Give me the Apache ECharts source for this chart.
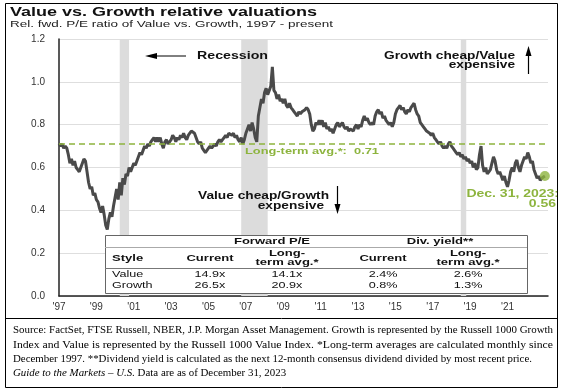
<!DOCTYPE html>
<html><head><meta charset="utf-8">
<script src="https://cdn.jsdelivr.net/npm/echarts@6/dist/echarts.min.js"></script>
<style>html,body{margin:0;padding:0;background:#fff}#c{width:564px;height:392px}</style>
</head><body><div id="c"></div>
<script>
// ---- data (monthly, Dec 1997 .. Dec 2023) ----
const startYear = 1997; // first point = Dec 1997
const relPE = [
0.71,0.70,0.71,0.69,0.70,0.69,0.66,0.62,0.64,0.61,0.63,0.60,0.59,
0.58,0.60,0.62,0.64,0.63,0.58,0.53,0.50,0.51,0.47,0.48,0.45,
0.44,0.41,0.39,0.42,0.38,0.33,0.31,0.36,0.39,0.37,0.42,0.46,
0.50,0.45,0.53,0.47,0.55,0.52,0.57,0.56,0.60,0.58,0.60,0.62,
0.61,0.63,0.65,0.67,0.66,0.68,0.70,0.69,0.71,0.70,0.72,0.73,
0.74,0.72,0.74,0.72,0.74,0.71,0.69,0.72,0.73,0.71,0.72,0.73,
0.75,0.74,0.72,0.74,0.73,0.75,0.74,0.76,0.74,0.73,0.75,0.76,
0.77,0.775,0.76,0.74,0.72,0.71,0.72,0.69,0.68,0.67,0.68,0.69,
0.70,0.69,0.70,0.71,0.70,0.72,0.73,0.72,0.73,0.74,0.75,0.74,
0.76,0.765,0.75,0.76,0.74,0.75,0.73,0.72,0.74,0.71,0.73,0.76,
0.78,0.80,0.77,0.81,0.78,0.74,0.72,0.84,0.88,0.92,0.90,0.95,
0.97,0.94,0.96,0.98,1.07,0.96,0.95,0.92,0.94,0.91,0.92,0.90,
0.92,0.89,0.88,0.90,0.88,0.87,0.86,0.85,0.84,0.86,0.85,0.86,
0.86,0.87,0.88,0.87,0.85,0.80,0.77,0.78,0.81,0.80,0.82,0.80,
0.82,0.79,0.81,0.78,0.79,0.77,0.78,0.76,0.78,0.80,0.81,0.79,
0.80,0.81,0.79,0.78,0.79,0.77,0.78,0.78,0.77,0.79,0.80,0.78,
0.80,0.79,0.82,0.84,0.82,0.83,0.81,0.80,0.81,0.80,0.84,0.86,
0.87,0.85,0.86,0.83,0.84,0.82,0.82,0.80,0.81,0.79,0.81,0.85,
0.87,0.88,0.89,0.87,0.88,0.86,0.85,0.87,0.86,0.88,0.89,0.90,
0.87,0.85,0.84,0.81,0.80,0.79,0.78,0.77,0.77,0.76,0.75,0.76,
0.74,0.73,0.72,0.71,0.72,0.70,0.69,0.70,0.69,0.71,0.72,0.70,
0.69,0.68,0.67,0.66,0.67,0.65,0.66,0.64,0.65,0.63,0.64,0.62,
0.63,0.60,0.62,0.59,0.60,0.66,0.70,0.61,0.58,0.60,0.57,0.58,
0.59,0.62,0.65,0.63,0.59,0.57,0.58,0.56,0.54,0.56,0.53,0.51,
0.54,0.58,0.60,0.58,0.62,0.635,0.60,0.58,0.61,0.63,0.65,0.64,
0.67,0.65,0.62,0.63,0.59,0.57,0.55,0.56,0.54,0.55,0.55,0.56
];
const longTermAvg = 0.71;
const endValue = 0.56;
const endLabel = 'Dec. 31, 2023:';
// recession periods, in months since Dec 1997 (as drawn)
const recessions = [[39, 45], [117, 134], [258, 261.5]];
const yTicks = [0, 0.2, 0.4, 0.6, 0.8, 1.0, 1.2];

// table
const tableStyles = ['Value', 'Growth'];
const peCurrent = ['14.9x', '26.5x'];
const peLongTerm = ['14.1x', '20.9x'];
const dyCurrent = ['2.4%', '0.8%'];
const dyLongTerm = ['2.6%', '1.3%'];

const titleText = 'Value vs. Growth relative valuations';
const subtitleText = 'Rel. fwd. P/E ratio of Value vs. Growth, 1997 - present';
const footLines = [
 'Source: FactSet, FTSE Russell, NBER, J.P. Morgan Asset Management. Growth is represented by the Russell 1000 Growth',
 'Index and Value is represented by the Russell 1000 Value Index. *Long-term averages are calculated monthly since',
 'December 1997. **Dividend yield is calculated as the next 12-month consensus dividend divided by most recent price.'
];
const footJustified = [true, true, false];
const footItalic = 'Guide to the Markets \u2013 U.S.';
const footLast = ' Data are as of December 31, 2023';

// ---- chart ----
const GREEN = '#8db43e';
const SANS = 'Arial, "Liberation Sans", sans-serif';
const SERIF = '"Times New Roman", "Liberation Serif", serif';
const FOOT_SIZE = 10.9;
const FOOT_FONT = FOOT_SIZE + 'px ' + SERIF;

function T(x, y, text, font, opt) {
  opt = opt || {};
  return {
    type: 'text', x: x, y: y, scaleX: opt.sx == null ? 1.42 : opt.sx, z: opt.z || 120, silent: true,
    style: {
      text: text, font: font, fill: opt.fill || '#111',
      textAlign: opt.align || 'left', align: opt.align || 'left',
      textVerticalAlign: 'middle', verticalAlign: 'middle',
      rich: opt.rich
    }
  };
}
function L(x1, y1, x2, y2, color, w, z) {
  return { type: 'line', z: z || 120, silent: true, shape: { x1, y1, x2, y2 }, style: { stroke: color, lineWidth: w || 1 } };
}
function P(points, color, z) {
  return { type: 'polygon', z: z || 120, silent: true, shape: { points }, style: { fill: color } };
}
const mctx = document.createElement('canvas').getContext('2d');
function measure(text, font) { mctx.font = font; return mctx.measureText(text).width; }

const chart = echarts.init(document.getElementById('c'), null, { renderer: 'canvas', width: 564, height: 392 });

const g = [];
// frame
g.push({ type: 'rect', z: 130, silent: true, shape: { x: 5.5, y: 3.5, width: 552, height: 384 }, style: { fill: 'none', stroke: '#000', lineWidth: 1 } });
g.push(L(5.5, 318.5, 557.5, 318.5, '#000', 1, 130));
// title
g.push(T(10, 12.5, titleText, 'bold 12px ' + SANS, { sx: 1.5 }));
g.push(T(10, 24, subtitleText, '9.5px ' + SANS, { sx: 1.42, fill: '#222' }));
// annotations
g.push(T(197, 56, 'Recession', 'bold 10px ' + SANS, { sx: 1.42 }));
g.push(L(156, 56, 186, 56, '#000', 1));
g.push(P([[145, 56], [157, 53], [157, 59]], '#000'));
g.push(T(515, 56, 'Growth cheap/Value', 'bold 10px ' + SANS, { align: 'right', sx: 1.37 }));
g.push(T(515, 65.5, 'expensive', 'bold 10px ' + SANS, { align: 'right', sx: 1.37 }));
g.push(L(528.5, 55, 528.5, 74, '#000', 1.2));
g.push(P([[528.5, 46], [525.5, 56], [531.5, 56]], '#000'));
g.push(T(329, 196.5, 'Value cheap/Growth', 'bold 10px ' + SANS, { align: 'right', sx: 1.37 }));
g.push(T(324, 206, 'expensive', 'bold 10px ' + SANS, { align: 'right', sx: 1.37 }));
g.push(L(337.5, 186, 337.5, 205, '#000', 1.2));
g.push(P([[337.5, 214], [334.5, 204], [340.5, 204]], '#000'));
// long-term label
g.push(T(245, 151.5, 'Long-term avg.*:  ' + longTermAvg.toFixed(2), 'bold 9.5px ' + SANS, { sx: 1.35, fill: GREEN }));
// end label
g.push(T(559, 194.5, endLabel, 'bold 10px ' + SANS, { align: 'right', sx: 1.4, fill: GREEN }));
g.push(T(556, 204.5, endValue.toFixed(2), 'bold 10px ' + SANS, { align: 'right', sx: 1.4, fill: GREEN }));

// table
const tx = 105, ty = 235, tw = 422, th = 58;
g.push({ type: 'rect', z: 110, silent: true, shape: { x: tx + 0.5, y: ty + 0.5, width: tw, height: th }, style: { fill: '#fff', stroke: '#666', lineWidth: 1 } });
g.push(L(tx, ty + 12.5, tx + tw, ty + 12.5, '#aaa', 1));
g.push(L(tx, ty + 33.5, tx + tw, ty + 33.5, '#777', 1));
const HB = 'bold 9px ' + SANS, HR = '9px ' + SANS;
const colX = [210, 287, 383, 468];
g.push(T(272, ty + 6.5, 'Forward P/E', HB, { align: 'center', sx: 1.45 }));
g.push(T(440, ty + 6.5, 'Div. yield**', HB, { align: 'center', sx: 1.45 }));
g.push(T(112, ty + 23.5, 'Style', HB, { sx: 1.45 }));
g.push(T(colX[0], ty + 23.5, 'Current', HB, { align: 'center', sx: 1.45 }));
g.push(T(colX[2], ty + 23.5, 'Current', HB, { align: 'center', sx: 1.45 }));
[colX[1], colX[3]].forEach(function (cx) {
  g.push(T(cx, ty + 18.5, 'Long-', HB, { align: 'center', sx: 1.45 }));
  g.push(T(cx, ty + 28, 'term avg.*', HB, { align: 'center', sx: 1.45 }));
});
tableStyles.forEach(function (s, i) {
  const ry = ty + 40 + i * 11;
  g.push(T(112, ry, s, HR, { sx: 1.4 }));
  g.push(T(colX[0], ry, peCurrent[i], HR, { align: 'center', sx: 1.4 }));
  g.push(T(colX[1], ry, peLongTerm[i], HR, { align: 'center', sx: 1.4 }));
  g.push(T(colX[2], ry, dyCurrent[i], HR, { align: 'center', sx: 1.4 }));
  g.push(T(colX[3], ry, dyLongTerm[i], HR, { align: 'center', sx: 1.4 }));
});

// footnote
const footX = 13, footW = 540, footY0 = 330.5, footDY = 14.2;
footLines.forEach(function (line, i) {
  const sx = footJustified[i] ? footW / measure(line, FOOT_FONT) : 1;
  g.push(T(footX, footY0 + i * footDY, line, FOOT_FONT, { sx: sx, fill: '#000' }));
});
g.push(T(footX, footY0 + 3 * footDY, '{i|' + footItalic + '}' + footLast, FOOT_FONT, {
  sx: 1, fill: '#000', rich: { i: { fontStyle: 'italic', fontFamily: SERIF, fontSize: FOOT_SIZE, fill: '#000', color: '#000' } }
}));

const option = {
  animation: false,
  backgroundColor: '#fff',
  grid: { left: 59, right: 16, top: 39, bottom: 96, containLabel: false },
  xAxis: {
    type: 'value', min: 0, max: 314, interval: 24,
    axisLine: { show: true, lineStyle: { color: '#222', width: 1.5 } },
    axisTick: { show: false },
    splitLine: { show: false },
    axisLabel: {
      margin: 6, fontSize: 10, color: '#333', fontFamily: SANS,
      formatter: function (v) { if (v > 300) return ''; return "'" + String((startYear + v / 12) % 100).padStart(2, '0'); }
    }
  },
  yAxis: {
    type: 'value', min: yTicks[0], max: yTicks[yTicks.length - 1], interval: 0.2,
    axisLine: { show: true, lineStyle: { color: '#222', width: 1.5 } },
    axisTick: { show: false },
    splitLine: { show: true, lineStyle: { color: '#dedede', width: 1 } },
    axisLabel: { margin: 14, fontSize: 10, color: '#333', fontFamily: SANS, formatter: function (v) { return v.toFixed(1); } }
  },
  series: [
    {
      type: 'line', data: relPE.map(function (v, i) { return [i, v]; }),
      showSymbol: false, symbol: 'none', z: 3,
      lineStyle: { color: '#4a4a4a', width: 3 },
      markArea: {
        silent: true, itemStyle: { color: '#dcdcdc' },
        data: recessions.map(function (r) { return [{ xAxis: r[0] }, { xAxis: r[1] }]; })
      },
      markLine: {
        silent: true, symbol: 'none', label: { show: false },
        lineStyle: { color: GREEN, type: [6, 4], width: 1.6 },
        data: [{ yAxis: longTermAvg }]
      }
    },
    {
      type: 'scatter', z: 5, symbolSize: 10,
      itemStyle: { color: GREEN },
      data: [[relPE.length - 1, endValue]]
    }
  ],
  graphic: { elements: g }
};
chart.setOption(option);
</script></body></html>
